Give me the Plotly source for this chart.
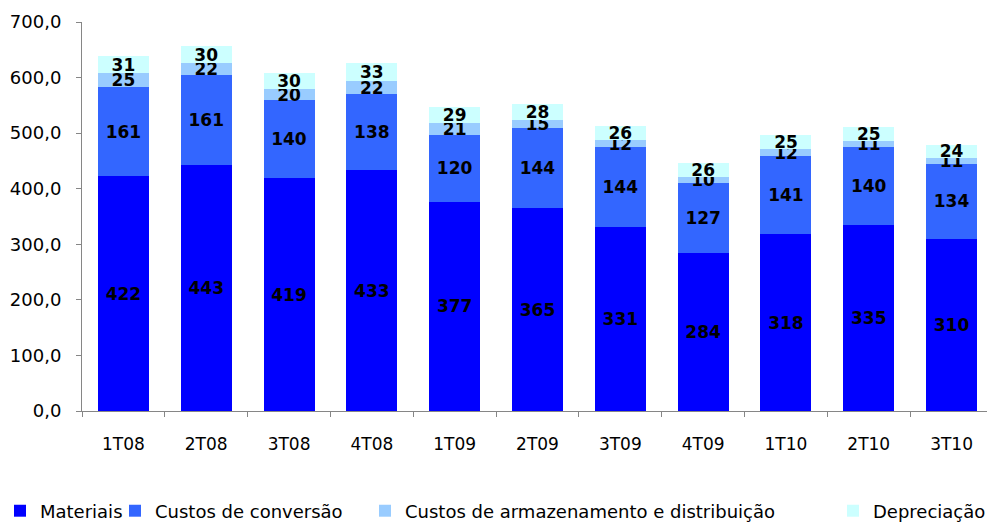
import plotly.graph_objects as go

categories = ["1T08", "2T08", "3T08", "4T08", "1T09", "2T09", "3T09", "4T09", "1T10", "2T10", "3T10"]
materiais = [422, 443, 419, 433, 377, 365, 331, 284, 318, 335, 310]
conversao = [161, 161, 140, 138, 120, 144, 144, 127, 141, 140, 134]
armazenamento = [25, 22, 20, 22, 21, 15, 12, 10, 12, 11, 11]
depreciacao = [31, 30, 30, 33, 29, 28, 26, 26, 25, 25, 24]

series_names = ["Materiais", "Custos de conversão", "Custos de armazenamento e distribuição", "Depreciação"]
series_values = [materiais, conversao, armazenamento, depreciacao]
series_colors = ["#0000FF", "#3366FF", "#99CCFF", "#CCFFFF"]

W, H = 1010, 522
FONT = "DejaVu Sans"
legend_ids = ["legend", "legend2", "legend3", "legend4"]
legend_px = [-18, 115, 365, 833]

fig = go.Figure()
for name, vals, color, lid in zip(series_names, series_values, series_colors, legend_ids):
    fig.add_trace(go.Bar(
        name=name, x=categories, y=vals, legend=lid,
        marker=dict(color=color, line=dict(width=0)),
        text=[str(v) for v in vals], textposition="inside", textangle=0,
        insidetextanchor="middle", constraintext="none",
        textfont=dict(family=FONT, size=17, color="black", weight="bold"),
        cliponaxis=False, hoverinfo="x+y+name",
    ))

legends = {}
for lid, px in zip(legend_ids, legend_px):
    legends[lid] = dict(orientation="h", xref="container", yref="container",
                        x=px / W, xanchor="left", y=1 - 511 / H, yanchor="middle",
                        font=dict(family=FONT, size=18, color="black"),
                        bgcolor="rgba(0,0,0,0)", borderwidth=0, itemwidth=30)

fig.update_layout(
    barmode="stack", bargap=0.385,
    width=W, height=H,
    margin=dict(l=82, r=17, t=22, b=111, autoexpand=False),
    plot_bgcolor="white", paper_bgcolor="white",
    separators=",.",
    font=dict(family=FONT, size=18, color="black"),
    showlegend=True,
    xaxis=dict(showline=True, linecolor="#868686", linewidth=1, ticks="outside",
               tickson="boundaries", ticklen=5, tickcolor="#868686",
               tickfont=dict(family=FONT, size=17, color="black"), ticklabelstandoff=18,
               range=[-0.5, 10.5], showgrid=False, automargin=False),
    yaxis=dict(range=[0, 700], dtick=100, tickformat=".1f", showline=True,
               linecolor="#868686", linewidth=1, ticks="outside", ticklen=5,
               tickcolor="#868686", showgrid=False, zeroline=False, automargin=False,
               tickfont=dict(family=FONT, size=18, color="black"), ticklabelstandoff=11),
    **legends,
)

fig.write_html("out.html", config={"displayModeBar": False},
               post_script="document.body.style.overflow='hidden';document.body.style.margin='0';")
